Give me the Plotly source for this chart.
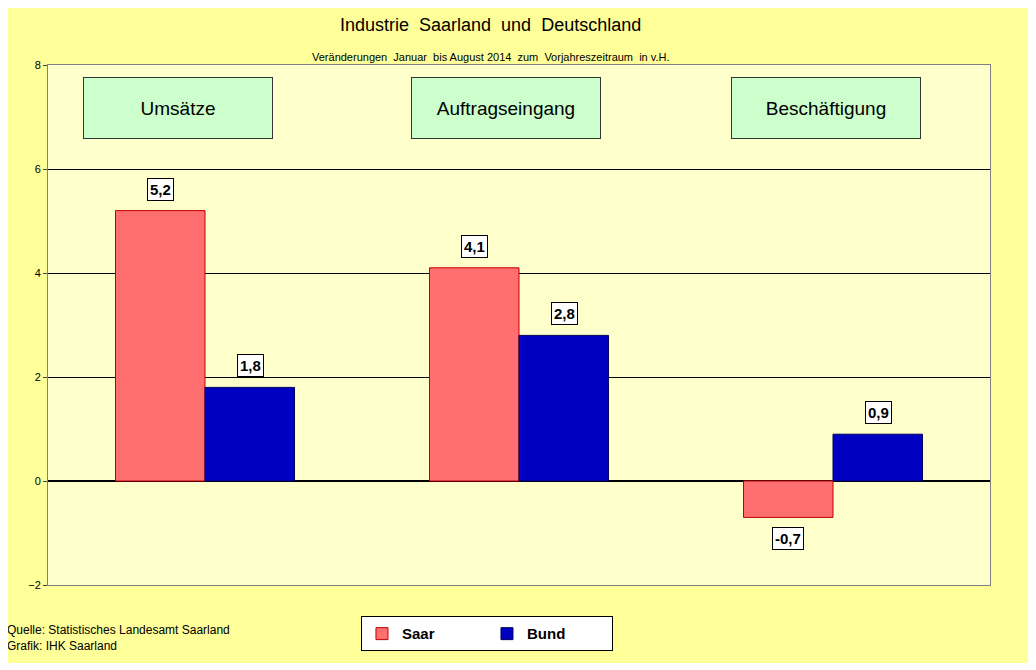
import plotly.graph_objects as go

categories = ["Umsätze", "Auftragseingang", "Beschäftigung"]
saar = [5.2, 4.1, -0.7]
bund = [1.8, 2.8, 0.9]
y_ticks = [-2, 0, 2, 4, 6, 8]
header_shift = [-27, -13, -7]

fig = go.Figure()
fig.add_trace(go.Bar(x=categories, y=saar, name="<b>Saar</b>", offsetgroup="s",
                     marker=dict(color="#FF6F6F", line=dict(color="#C00000", width=1))))
fig.add_trace(go.Bar(x=categories, y=bund, name="<b>Bund</b>", offsetgroup="b",
                     marker=dict(color="#0000C0", line=dict(color="#000060", width=1))))

def fmt(v):
    return f"{v:.1f}".replace(".", ",")

# value labels
for i, c in enumerate(categories):
    for v, shift in ((saar[i], -45), (bund[i], 45)):
        fig.add_annotation(x=c, y=v, xshift=shift, text="<b>" + fmt(v) + "</b>",
                           showarrow=False, yanchor="bottom" if v >= 0 else "top",
                           yshift=10 if v >= 0 else -10,
                           bgcolor="white", bordercolor="black", borderwidth=1, borderpad=2,
                           font=dict(family="Arial", size=15, color="black"))

# category header boxes
for i, c in enumerate(categories):
    fig.add_annotation(x=i, y=7.18, xref="x", yref="y", text=c, showarrow=False,
                       xshift=header_shift[i],
                       width=186, height=58, bgcolor="#CCFFCC", bordercolor="#333333",
                       borderwidth=1, font=dict(family="Arial", size=19, color="black"))

fig.add_annotation(x=0.47, y=1.077, xref="paper", yref="paper", text="Industrie  Saarland  und  Deutschland",
                   showarrow=False, font=dict(family="Arial", size=18, color="black"), yanchor="middle")
fig.add_annotation(x=0.47, y=1.0, xref="paper", yref="paper",
                   text="Veränderungen  Januar  bis August 2014  zum  Vorjahreszeitraum  in v.H.",
                   showarrow=False, font=dict(family="Arial", size=11, color="black"), yanchor="bottom")
fig.add_annotation(x=-0.046, y=-0.07, xref="paper", yref="paper", xanchor="left", yanchor="top",
                   align="left",
                   text="Quelle: Statistisches Landesamt Saarland<br>Grafik: IHK Saarland",
                   showarrow=False, font=dict(family="Arial", size=12, color="black"))

fig.update_layout(
    width=1020, height=655,
    margin=dict(l=40, r=38, t=57, b=76),
    paper_bgcolor="#FFFF99", plot_bgcolor="#FFFFCC",
    barmode="group", bargap=0.43, bargroupgap=0,
    font=dict(family="Arial", size=11, color="black"),
    legend=dict(orientation="h", x=0.466, xanchor="center", y=-0.094, yanchor="middle",
                bgcolor="white", bordercolor="black", borderwidth=1,
                font=dict(family="Arial", size=15, color="black"),
                itemwidth=30, entrywidth=80),
    xaxis=dict(showticklabels=False, showline=True, linecolor="#808080", mirror=True,
               showgrid=False, zeroline=False),
    yaxis=dict(range=[-2, 8], tickvals=y_ticks, showgrid=True, gridcolor="black", gridwidth=1,
               zeroline=True, zerolinecolor="black", showline=True, linecolor="#808080",
               mirror=True, ticks="outside", ticklen=4),
)
fig.write_html("out.html")
